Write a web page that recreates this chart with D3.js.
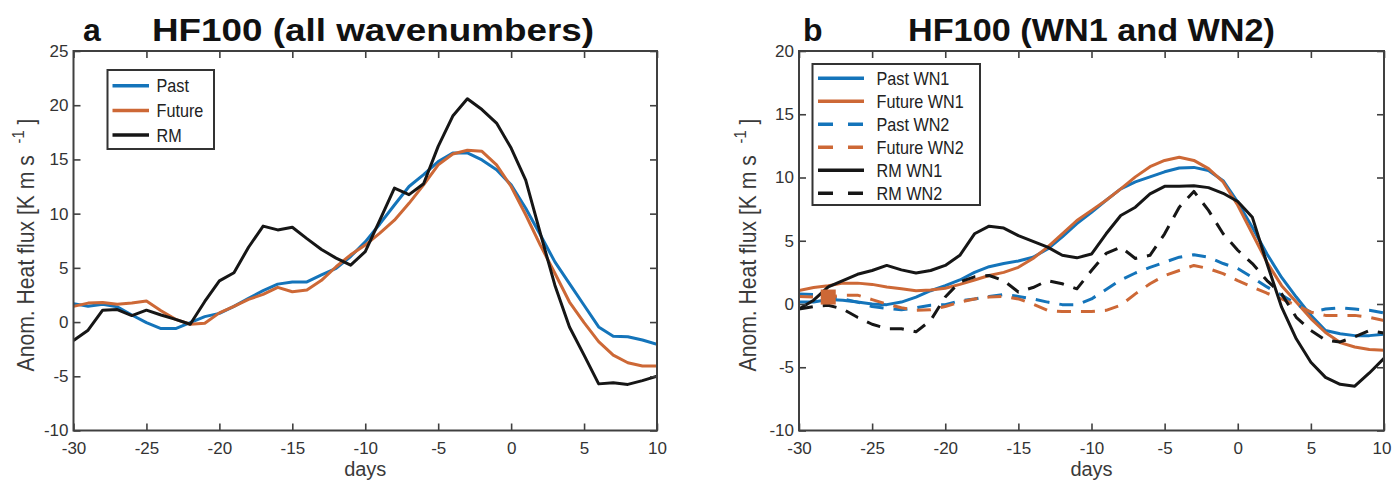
<!DOCTYPE html>
<html><head><meta charset="utf-8">
<script src="https://cdn.jsdelivr.net/npm/d3@7"></script>
<style>
body{margin:0;background:#fff}
text{font-family:"Liberation Sans",Arial,Helvetica,sans-serif}
</style>
</head><body>
<svg id="c" width="1392" height="481"></svg>
<script>
// ---------------- DATA ----------------
const days = [-30,-29,-28,-27,-26,-25,-24,-23,-22,-21,-20,-19,-18,-17,-16,-15,-14,-13,-12,-11,-10,-9,-8,-7,-6,-5,-4,-3,-2,-1,0,1,2,3,4,5,6,7,8,9,10];
const xTickValues = [-30,-25,-20,-15,-10,-5,0,5,10];
const yTicksA = [-10,-5,0,5,10,15,20,25];
const yTicksB = [-10,-5,0,5,10,15,20];

// Panel a: all wavenumbers
const pastA   = [1.7,1.45,1.65,1.4,0.65,-0.05,-0.6,-0.6,-0.05,0.5,0.8,1.45,2.2,2.9,3.5,3.7,3.7,4.35,4.95,6.05,7.4,9.05,10.8,12.5,13.6,14.8,15.6,15.6,14.95,14.05,12.65,10.5,8.05,5.55,3.55,1.55,-0.45,-1.3,-1.35,-1.65,-2.05];
const futureA = [1.45,1.75,1.8,1.65,1.75,1.95,1.05,0.25,-0.2,-0.1,0.85,1.45,2.1,2.55,3.2,2.8,2.95,3.85,5.1,6.2,7.1,8.2,9.4,10.95,12.65,14.5,15.5,15.85,15.75,14.5,12.5,9.9,7.1,4.5,1.85,-0.05,-1.8,-3.05,-3.75,-4.05,-4.05];
const rmA     = [-1.7,-0.75,1.1,1.15,0.6,1.1,0.65,0.25,-0.2,1.9,3.8,4.55,6.9,8.85,8.5,8.75,7.7,6.7,5.9,5.25,6.5,9.4,12.35,11.75,12.75,16.2,19.0,20.6,19.6,18.35,16.05,13.1,8.2,3.4,-0.45,-3.05,-5.7,-5.6,-5.75,-5.4,-5.0];

// Panel b: WN1 and WN2
const pastWN1   = [0.15,0.15,0.35,0.3,0.15,0.0,-0.05,0.15,0.55,1.05,1.45,1.9,2.5,2.95,3.2,3.4,3.7,4.35,5.3,6.35,7.25,8.2,9.1,9.65,10.05,10.45,10.75,10.8,10.55,9.75,8.05,6.05,3.95,2.1,0.55,-0.9,-2.1,-2.35,-2.5,-2.5,-2.4];
const futureWN1 = [1.07,1.3,1.45,1.65,1.65,1.55,1.35,1.2,1.05,1.1,1.25,1.55,1.9,2.25,2.5,2.9,3.6,4.5,5.55,6.6,7.4,8.2,9.1,10.05,10.85,11.35,11.6,11.35,10.7,9.65,7.8,5.55,3.3,1.45,0.15,-1.15,-2.25,-3.05,-3.4,-3.6,-3.65];
const pastWN2   = [0.8,0.75,0.6,0.4,0.15,-0.2,-0.35,-0.45,-0.3,-0.1,-0.05,0.25,0.4,0.6,0.75,0.6,0.4,0.15,-0.05,-0.05,0.4,1.15,1.9,2.45,2.9,3.3,3.7,3.9,3.7,3.2,2.8,2.1,1.35,0.7,0.0,-0.65,-0.4,-0.3,-0.4,-0.5,-0.7];
const futureWN2 = [0.6,0.55,0.55,0.7,0.7,0.35,0.0,-0.3,-0.5,-0.45,-0.2,0.15,0.4,0.55,0.6,0.4,0.0,-0.5,-0.6,-0.6,-0.6,-0.5,-0.1,0.8,1.6,2.25,2.65,3.05,2.8,2.4,1.85,1.35,0.85,0.4,-0.1,-0.65,-0.9,-0.9,-0.9,-1.05,-1.3];
const rmWN1     = [-0.4,0.3,1.35,1.85,2.35,2.65,3.05,2.7,2.45,2.65,3.05,3.85,5.55,6.15,6.0,5.4,4.95,4.5,3.85,3.65,3.95,5.55,7.0,7.65,8.7,9.3,9.3,9.35,9.2,8.75,8.1,6.85,3.2,-0.25,-2.75,-4.6,-5.8,-6.35,-6.5,-5.45,-4.3];
const rmWN2     = [-0.4,-0.2,-0.1,-0.4,-1.05,-1.6,-1.95,-1.95,-2.2,-1.3,0.55,1.75,2.15,2.25,1.85,0.95,1.3,1.85,1.6,1.2,2.65,4.0,4.5,3.6,3.85,5.55,7.65,8.9,7.4,5.55,4.25,3.2,1.85,0.8,-1.05,-2.1,-2.85,-3.0,-2.6,-2.1,-2.3];
const markerDays = [-28];

const seriesNamesA = ["Past","Future","RM"];
const seriesNamesB = ["Past WN1","Future WN1","Past WN2","Future WN2","RM WN1","RM WN2"];

// ---------------- STYLE ----------------
const BLUE = "#1474BA", ORANGE = "#CD6836", BLACK = "#161616", AX = "#404040";
const DASH = "14,10";
const fmt = d => String(d);

const svg = d3.select("#c");

function drawPanel(cfg){
  const x = d3.scaleLinear().domain([-30,10]).range([cfg.l, cfg.r]);
  const y = d3.scaleLinear().domain(cfg.yDomain).range([cfg.b, cfg.t]);
  const g = svg.append("g");
  const clipId = "clip" + cfg.id;
  svg.append("defs").append("clipPath").attr("id", clipId)
     .append("rect").attr("x", cfg.l).attr("y", cfg.t).attr("width", cfg.r-cfg.l).attr("height", cfg.b-cfg.t);

  const line = d3.line().x((d,i)=>x(days[i])).y(d=>y(d));
  const lg = g.append("g").attr("clip-path", `url(#${clipId})`);
  cfg.series.forEach(s=>{
    lg.append("path").attr("d", line(s.values)).attr("fill","none")
      .attr("stroke", s.color).attr("stroke-width", 3)
      .attr("stroke-dasharray", s.dash ? DASH : null)
      .attr("stroke-linejoin","round");
  });
  if (cfg.markers){
    cfg.markers.forEach(m=>{
      const i = days.indexOf(m.day);
      lg.append("rect").attr("x", x(m.day)-7.5).attr("y", y(m.values[i])-7.5)
        .attr("width",15).attr("height",15).attr("fill", m.color);
    });
  }

  // axes
  const styleAxis = sel => {
    sel.select(".domain").remove();
    sel.selectAll(".tick line").attr("stroke", AX).attr("stroke-width", 1.6);
    sel.selectAll(".tick text").attr("fill", "#333").attr("font-size", 17);
  };
  const xb = g.append("g").attr("transform",`translate(0,${cfg.b})`)
    .call(d3.axisBottom(x).tickValues(xTickValues).tickSizeInner(-7).tickSizeOuter(0).tickPadding(11).tickFormat(fmt))
    .call(styleAxis);
  if (cfg.shiftLast){
    // keep the last tick label inside the canvas
    xb.selectAll(".tick text").filter(d=>d===10).attr("text-anchor","end").attr("x",7);
  }
  g.append("g").attr("transform",`translate(0,${cfg.t})`)
    .call(d3.axisTop(x).tickValues(xTickValues).tickSizeInner(-7).tickSizeOuter(0).tickFormat(""))
    .call(styleAxis);
  g.append("g").attr("transform",`translate(${cfg.l},0)`)
    .call(d3.axisLeft(y).tickValues(cfg.yTicks).tickSizeInner(-7).tickSizeOuter(0).tickPadding(5).tickFormat(fmt))
    .call(styleAxis);
  g.append("g").attr("transform",`translate(${cfg.r},0)`)
    .call(d3.axisRight(y).tickValues(cfg.yTicks).tickSizeInner(-7).tickSizeOuter(0).tickFormat(""))
    .call(styleAxis);
  g.append("rect").attr("x",cfg.l).attr("y",cfg.t).attr("width",cfg.r-cfg.l).attr("height",cfg.b-cfg.t)
    .attr("fill","none").attr("stroke",AX).attr("stroke-width",2);

  // x label
  g.append("text").attr("x",(cfg.l+cfg.r)/2).attr("y",476).attr("text-anchor","middle")
    .attr("font-size",20).attr("fill","#3a3a3a").text("days");

  // y label
  const yl = g.append("text").attr("transform",`translate(${cfg.ylx},245) rotate(-90) scale(0.92,1)`)
    .attr("text-anchor","middle").attr("font-size",23).attr("fill","#3a3a3a").style("white-space","pre");
  yl.append("tspan").text("Anom. Heat flux [K m s  ");
  yl.append("tspan").attr("font-size",16).attr("dy",-10).text("-1");
  yl.append("tspan").attr("dy",10).text(" ]");

  // titles
  g.append("text").attr("x",cfg.letterX).attr("y",41).attr("font-size",32).attr("font-weight","bold")
    .attr("fill","#111").text(cfg.letter);
  g.append("text").attr("x",cfg.titleX).attr("y",41).attr("font-size",32).attr("font-weight","bold")
    .attr("fill","#111").attr("textLength",cfg.titleW).attr("lengthAdjust","spacingAndGlyphs").text(cfg.title);

  // legend
  const L = cfg.legend;
  g.append("rect").attr("x",L.x).attr("y",L.y).attr("width",L.w).attr("height",L.h)
    .attr("fill","#fff").attr("stroke","#333").attr("stroke-width",2);
  cfg.series.forEach((s,i)=>{
    const yy = L.row0 + i*L.dy;
    g.append("line").attr("x1",L.lx1).attr("x2",L.lx2).attr("y1",yy).attr("y2",yy)
      .attr("stroke",s.color).attr("stroke-width",3.5).attr("stroke-dasharray", s.dash ? "15,15" : null);
    g.append("text").attr("transform",`translate(${L.tx},${yy+6.5}) scale(0.9,1)`)
      .attr("font-size",18).attr("fill","#222").text(s.name);
  });
}

drawPanel({
  id:"a", l:73.5, r:657, t:51, b:430.5, yDomain:[-10,25], yTicks:yTicksA, ylx:33.5,
  letter:"a", letterX:83, title:"HF100 (all wavenumbers)", titleX:152, titleW:442,
  series:[
    {name:seriesNamesA[0], values:pastA, color:BLUE},
    {name:seriesNamesA[1], values:futureA, color:ORANGE},
    {name:seriesNamesA[2], values:rmA, color:BLACK}
  ],
  legend:{x:107.5,y:70,w:106.5,h:79,row0:85.7,dy:24.7,lx1:112.5,lx2:149,tx:156.5}
});

drawPanel({
  id:"b", l:799, r:1384, t:51, b:430.5, yDomain:[-10,20], yTicks:yTicksB, ylx:755.5, shiftLast:true,
  letter:"b", letterX:803, title:"HF100 (WN1 and WN2)", titleX:908, titleW:367,
  series:[
    {name:seriesNamesB[0], values:pastWN1, color:BLUE},
    {name:seriesNamesB[1], values:futureWN1, color:ORANGE},
    {name:seriesNamesB[2], values:pastWN2, color:BLUE, dash:true},
    {name:seriesNamesB[3], values:futureWN2, color:ORANGE, dash:true},
    {name:seriesNamesB[4], values:rmWN1, color:BLACK},
    {name:seriesNamesB[5], values:rmWN2, color:BLACK, dash:true}
  ],
  markers: markerDays.map(d=>({day:d, values:futureWN2, color:ORANGE})),
  legend:{x:812.5,y:64,w:167.5,h:141,row0:78.3,dy:23,lx1:818,lx2:864,tx:876.5}
});
</script>
</body></html>
